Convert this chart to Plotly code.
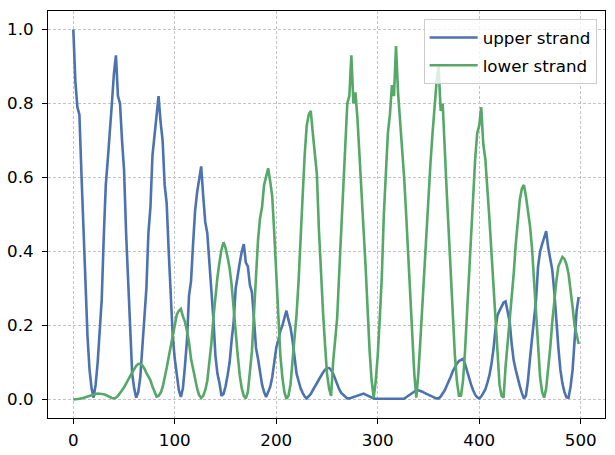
import plotly.graph_objects as go

# x positions (every 2 units)
x_vals = list(range(0, 500, 2))

upper_strand = [
    1.0, 0.86, 0.79, 0.77, 0.61, 0.46, 0.33, 0.17, 0.08, 0.03,
    0.005, 0.04, 0.10, 0.18, 0.27, 0.44, 0.58, 0.65, 0.74, 0.80,
    0.88, 0.93, 0.82, 0.80, 0.70, 0.62, 0.45, 0.32, 0.18, 0.07,
    0.03, 0.005, 0.02, 0.06, 0.14, 0.22, 0.30, 0.45, 0.52, 0.66,
    0.72, 0.76, 0.82, 0.75, 0.70, 0.58, 0.53, 0.40, 0.29, 0.17,
    0.11, 0.07, 0.025, 0.007, 0.03, 0.09, 0.16, 0.28, 0.32, 0.42,
    0.51, 0.56, 0.60, 0.63, 0.55, 0.48, 0.45, 0.38, 0.30, 0.22,
    0.12, 0.07, 0.045, 0.01, 0.015, 0.035, 0.065, 0.10, 0.16, 0.21,
    0.30, 0.34, 0.37, 0.40, 0.42, 0.37, 0.36, 0.31, 0.29, 0.22,
    0.14, 0.11, 0.07, 0.04, 0.02, 0.007, 0.02, 0.034, 0.06, 0.10,
    0.14, 0.16, 0.185, 0.20, 0.22, 0.24, 0.215, 0.195, 0.16, 0.11,
    0.07, 0.05, 0.03, 0.018, 0.008, 0.003, 0.008, 0.015, 0.025, 0.035,
    0.045, 0.055, 0.065, 0.073, 0.08, 0.085, 0.085, 0.08, 0.07, 0.055,
    0.04, 0.028, 0.018, 0.012, 0.006, 0.003, 0.003, 0.005, 0.007, 0.01,
    0.012, 0.014, 0.016, 0.016, 0.013, 0.01, 0.007, 0.004, 0.003, 0.002,
    0.002, 0.002, 0.002, 0.002, 0.002, 0.002, 0.002, 0.002, 0.002, 0.002,
    0.002, 0.002, 0.002, 0.002, 0.006, 0.01, 0.013, 0.018, 0.022, 0.025,
    0.025, 0.024, 0.021, 0.018, 0.015, 0.012, 0.009, 0.007, 0.005, 0.003,
    0.003, 0.008, 0.015, 0.025, 0.037, 0.048, 0.062, 0.077, 0.088, 0.097,
    0.104, 0.108, 0.11, 0.096, 0.075, 0.058, 0.04, 0.025, 0.013, 0.006,
    0.003, 0.008, 0.016, 0.027, 0.045, 0.065, 0.095, 0.135, 0.19, 0.228,
    0.24, 0.25, 0.262, 0.265, 0.235, 0.21, 0.15, 0.105, 0.08, 0.055,
    0.036, 0.018, 0.003, 0.01, 0.05, 0.11, 0.16, 0.21, 0.27, 0.36,
    0.40, 0.42, 0.44, 0.455, 0.41, 0.375, 0.35, 0.29, 0.20, 0.14,
    0.08, 0.043, 0.02, 0.006, 0.005, 0.034, 0.08, 0.15, 0.24, 0.277,
]

lower_strand = [
    0.0, 0.0, 0.001, 0.002, 0.003, 0.005, 0.007, 0.009, 0.010, 0.012,
    0.013, 0.015, 0.016, 0.016, 0.015, 0.014, 0.012, 0.009, 0.006, 0.004,
    0.003, 0.005, 0.010, 0.016, 0.025, 0.033, 0.042, 0.052, 0.063, 0.073,
    0.083, 0.091, 0.096, 0.097, 0.092, 0.084, 0.072, 0.060, 0.052, 0.035,
    0.020, 0.008, 0.010, 0.018, 0.033, 0.055, 0.085, 0.115, 0.145, 0.180,
    0.205, 0.230, 0.240, 0.245, 0.225, 0.210, 0.185, 0.155, 0.110, 0.080,
    0.055, 0.030, 0.012, 0.004, 0.010, 0.025, 0.050, 0.100, 0.150, 0.220,
    0.280, 0.330, 0.370, 0.405, 0.425, 0.410, 0.385, 0.355, 0.310, 0.240,
    0.180, 0.120, 0.065, 0.030, 0.010, 0.003, 0.020, 0.070, 0.130, 0.230,
    0.340, 0.430, 0.490, 0.520, 0.580, 0.600, 0.625, 0.590, 0.550, 0.450,
    0.330, 0.230, 0.120, 0.060, 0.020, 0.002, 0.010, 0.040, 0.100, 0.160,
    0.230, 0.320, 0.450, 0.550, 0.660, 0.740, 0.770, 0.780, 0.720, 0.660,
    0.610, 0.460, 0.340, 0.240, 0.150, 0.070, 0.030, 0.010, 0.100, 0.160,
    0.220, 0.340, 0.460, 0.560, 0.700, 0.800, 0.820, 0.930, 0.800, 0.830,
    0.760, 0.670, 0.580, 0.460, 0.360, 0.240, 0.130, 0.050, 0.005, 0.050,
    0.120, 0.220, 0.330, 0.500, 0.610, 0.720, 0.770, 0.850, 0.820, 0.955,
    0.830, 0.760, 0.690, 0.600, 0.500, 0.390, 0.290, 0.170, 0.070, 0.005,
    0.070, 0.160, 0.260, 0.360, 0.450, 0.550, 0.640, 0.720, 0.800, 0.860,
    0.900, 0.780, 0.800, 0.660, 0.560, 0.450, 0.340, 0.220, 0.120, 0.050,
    0.010, 0.010, 0.050, 0.130, 0.240, 0.350, 0.470, 0.570, 0.650, 0.720,
    0.740, 0.790, 0.690, 0.650, 0.580, 0.490, 0.400, 0.310, 0.210, 0.110,
    0.040, 0.010, 0.005, 0.090, 0.150, 0.220, 0.280, 0.340, 0.420, 0.490,
    0.540, 0.570, 0.580, 0.550, 0.510, 0.470, 0.410, 0.320, 0.230, 0.130,
    0.060, 0.020, 0.005, 0.030, 0.080, 0.140, 0.210, 0.270, 0.320, 0.360,
    0.375, 0.385, 0.380, 0.365, 0.340, 0.300, 0.250, 0.200, 0.170, 0.150,
]

x_ticks = [0, 100, 200, 300, 400, 500]
y_ticks = [0.0, 0.2, 0.4, 0.6, 0.8, 1.0]
y_tick_labels = ["0.0", "0.2", "0.4", "0.6", "0.8", "1.0"]

FONT = "DejaVu Sans"
fig = go.Figure()
fig.add_trace(go.Scatter(x=x_vals, y=upper_strand, mode="lines", name="upper strand",
                         legendgroup="u", line=dict(color="#4C72B0", width=2.6)))
fig.add_trace(go.Scatter(x=x_vals, y=lower_strand, mode="lines", name="lower strand",
                         legendgroup="l", line=dict(color="#55A868", width=2.6)))

axis_common = dict(
    showline=True, linecolor="black", linewidth=1.1, mirror=True,
    ticks="outside", ticklen=5, tickwidth=1.1, tickcolor="black",
    showgrid=True, gridcolor="#c4c4c4", gridwidth=0.9, griddash="3px,2px",
    zeroline=False, automargin=False,
    tickfont=dict(family=FONT, size=16.7, color="black"),
)
fig.update_xaxes(range=[-24.95, 523.95], tickvals=x_ticks, ticklabelstandoff=2, **axis_common)
fig.update_yaxes(range=[-0.05, 1.05], tickvals=y_ticks, ticktext=y_tick_labels,
                 ticklabelstandoff=5, **axis_common)

fig.update_layout(
    width=615, height=455,
    margin=dict(l=48, r=9.5, t=11, b=37),
    plot_bgcolor="white", paper_bgcolor="white",
    font=dict(family=FONT, size=16.7, color="black"),
    legend=dict(x=0.985, y=0.98, xanchor="right", yanchor="top",
                bgcolor="rgba(255,255,255,0.8)", bordercolor="#cccccc", borderwidth=1,
                font=dict(family=FONT, size=16.7, color="black"),
                tracegroupgap=3, itemwidth=48),
    showlegend=True,
)

fig.write_html("out.html")
